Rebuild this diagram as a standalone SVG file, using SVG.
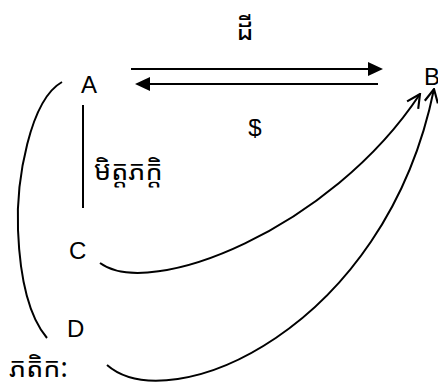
<svg xmlns="http://www.w3.org/2000/svg" width="438" height="389" viewBox="0 0 438 389">
<style>
.t{font-family:"Liberation Sans","Noto Sans","DejaVu Sans",sans-serif;font-size:24px;fill:#000}
.k{font-family:"Noto Sans Khmer","Khmer OS","Noto Sans","DejaVu Sans",sans-serif;font-size:27px;font-weight:normal;fill:#000}
.l{fill:none;stroke:#000;stroke-width:2}
</style>
<defs>
<marker id="oa" viewBox="0 0 12 12" refX="11" refY="6" markerWidth="16" markerHeight="16" markerUnits="userSpaceOnUse" orient="auto">
<path d="M1,1 L11,6 L1,11" fill="none" stroke="#000" stroke-width="1.6"/>
</marker>
</defs>
<g id="nodes">
<g id="node-A"><text class="t" x="81" y="93">A</text></g>
<g id="node-B"><text class="t" x="424" y="85">B</text></g>
<g id="node-C"><text class="t" x="69" y="259">C</text></g>
<g id="node-D"><text class="t" x="67" y="337">D</text></g>
<g id="label-land"><text class="k" x="245" y="40" text-anchor="middle">ដី</text></g>
<g id="label-money"><text class="t" x="255" y="136" text-anchor="middle">$</text></g>
<g id="label-friends"><text class="k" x="94" y="180">មិត្តភក្តិ</text></g>
<g id="label-tenant"><text class="k" x="9" y="377">ភតិក:</text></g>
</g>
<g id="connectors">
<path class="l" d="M131,69 L368,69" />
<path d="M368,62 L383,69 L368,76 Z" fill="#000"/>
<path class="l" d="M378,84 L150,84" />
<path d="M150,77 L135,84 L150,91 Z" fill="#000"/>
<path class="l" d="M83,105 L83,208" />
<path class="l" d="M62,82 C30,100 16,180 18,230 C20,280 30,318 47,338" />
<path class="l" d="M100,263 C150,300 330,230 420,94" marker-end="url(#oa)" />
<path class="l" d="M107,365 C170,420 385,330 434,89" marker-end="url(#oa)" />
</g>
</svg>
